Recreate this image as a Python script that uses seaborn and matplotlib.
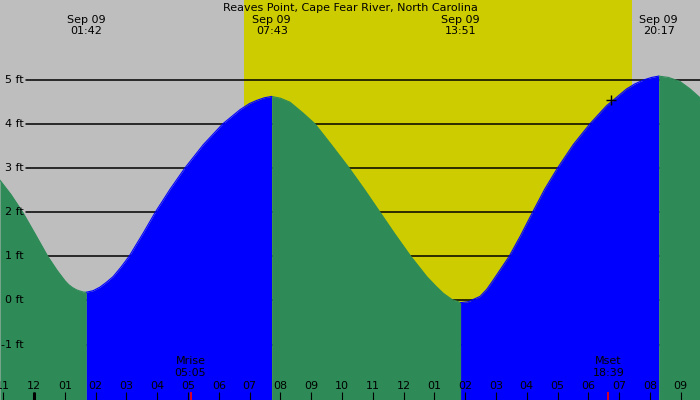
import numpy as np
import pandas as pd
import matplotlib
matplotlib.use("Agg")
import matplotlib.pyplot as plt
import seaborn as sns
from matplotlib.transforms import blended_transform_factory

# ---------------- data ----------------
title = "Reaves Point, Cape Fear River, North Carolina"

# hours after Sep 09 00:00, tide height in ft
tide_hours = [-1.104, -0.75, -0.37, 0.0, 0.445, 0.75, 1.0, 1.12, 1.25, 1.38, 1.5, 1.6, 1.70,
              1.92, 2.14, 2.35, 2.57, 2.82, 3.09, 3.55, 3.94, 4.42, 4.90, 5.50, 6.13, 6.69, 7.0, 7.23, 7.48, 7.717,
              8.0, 8.31, 8.74, 9.12, 9.67, 10.23, 10.75, 11.23, 11.72, 12.23, 12.75, 13.05, 13.29, 13.57, 13.85,
              14.1, 14.48, 14.7, 14.91, 15.43, 15.80, 16.19, 16.59, 17.0, 17.51, 18.05, 18.59, 19.24, 19.5,
              19.78, 20.05, 20.283,
              20.6, 20.97, 21.30, 21.623]
tide_ft = [2.72, 2.40, 2.00, 1.55, 1.00, 0.68, 0.45, 0.36, 0.29, 0.24, 0.21, 0.19, 0.185,
           0.22, 0.30, 0.41, 0.54, 0.75, 1.00, 1.53, 2.00, 2.52, 3.00, 3.53, 4.00, 4.32, 4.46, 4.53, 4.59, 4.62,
           4.58, 4.49, 4.24, 4.00, 3.51, 3.00, 2.49, 2.00, 1.50, 1.00, 0.54, 0.32, 0.16, 0.02, -0.05,
           -0.03, 0.09, 0.25, 0.46, 1.00, 1.47, 2.00, 2.53, 3.00, 3.53, 4.00, 4.41, 4.79, 4.90,
           4.99, 5.05, 5.08,
           5.05, 4.96, 4.79, 4.59]

extreme_hours = [1.70, 7.717, 13.85, 20.283]
extreme_labels = ["01:42", "07:43", "13:51", "20:17"]
extreme_date = "Sep 09"

sun_hours = [6.81, 19.41]          # sunrise / sunset (daylight band)
moon_hours = [5.083, 18.65]
moon_names = ["Mrise", "Mset"]
moon_labels = ["05:05", "18:39"]

now_hour, now_ft = 18.74, 4.54

hour_ticks = list(range(-1, 22))
hour_labels = ["11", "12", "01", "02", "03", "04", "05", "06", "07", "08", "09", "10",
               "11", "12", "01", "02", "03", "04", "05", "06", "07", "08", "09"]
midnight_hours = [0]

depth_ticks = [-1, 0, 1, 2, 3, 4, 5]
depth_labels = ["-1 ft", "0 ft", "1 ft", "2 ft", "3 ft", "4 ft", "5 ft"]

x_range = (-1.104, 21.623)
y_range = (-2.256, 6.804)

# ---------------- colours ----------------
GRAY = "#BEBEBE"
YELLOW = "#CCCC00"
GREEN = "#2E8B57"
BLUE = "#0000FF"

sns.set_style("white")
plt.rcParams["font.family"] = ["DejaVu Sans"]
plt.rcParams["text.color"] = "black"

fig = plt.figure(figsize=(7, 4), dpi=100)
ax = fig.add_axes([0, 0, 1, 1])
ax.set_facecolor(GRAY)
ax.set_xlim(*x_range)
ax.set_ylim(*y_range)
for s in ax.spines.values():
    s.set_visible(False)

# daylight
ax.axvspan(sun_hours[0], sun_hours[1], color=YELLOW, lw=0, zorder=0)

# depth grid lines (behind the tide)
for d in depth_ticks:
    ax.axhline(d, xmin=26 / 700, xmax=1, color="black", lw=1.1, zorder=1)

# tide segments: split at extremes
t = np.array(tide_hours)
h = np.array(tide_ft)
bounds = [t[0]] + extreme_hours + [t[-1]]
rows = []
for i in range(len(bounds) - 1):
    m = (t >= bounds[i] - 1e-9) & (t <= bounds[i + 1] + 1e-9)
    seg_t, seg_h = t[m], h[m]
    phase = "rising" if seg_h[-1] > seg_h[0] else "falling"
    col = BLUE if phase == "rising" else GREEN
    ax.fill_between(seg_t, seg_h, y_range[0], color=col, lw=0, zorder=2)
    for tt, hh in zip(seg_t, seg_h):
        rows.append({"hour": tt, "ft": hh, "phase": phase, "seg": i})
df = pd.DataFrame(rows)
sns.lineplot(data=df, x="hour", y="ft", hue="phase", units="seg", estimator=None,
             palette={"rising": BLUE, "falling": GREEN}, lw=0.8, legend=False,
             ax=ax, zorder=3)
ax.set_xlabel("")
ax.set_ylabel("")
ax.set_xticks([])
ax.set_yticks([])
ax.set_xlim(*x_range)
ax.set_ylim(*y_range)

# current position marker
ax.plot([now_hour], [now_ft], marker="+", color="black", ms=7, mew=1.0, zorder=4)

# depth labels
ty = blended_transform_factory(ax.transAxes, ax.transData)
for d, lab in zip(depth_ticks, depth_labels):
    ax.text(24 / 700, d, lab, transform=ty, ha="right", va="center", fontsize=8,
            color="black", zorder=5)

# hour ticks and labels
tx = blended_transform_factory(ax.transData, ax.transAxes)
ax.vlines(hour_ticks, 0, 8 / 400, transform=tx, color="black", lw=0.8, zorder=5)
ax.vlines(midnight_hours, 0, 8 / 400, transform=tx, color="black", lw=2.2, zorder=5)
for hr, lab in zip(hour_ticks, hour_labels):
    ax.text(hr, 14 / 400, lab, transform=tx, ha="center", va="center", fontsize=8,
            color="black", zorder=5)

# moon rise/set
ax.vlines(moon_hours, 0, 8 / 400, transform=tx, color="red", lw=1.2, zorder=6)
for mh, nm, lab in zip(moon_hours, moon_names, moon_labels):
    ax.text(mh, 38.5 / 400, nm, transform=tx, ha="center", va="center", fontsize=8,
            color="black", zorder=5)
    ax.text(mh, 27 / 400, lab, transform=tx, ha="center", va="center", fontsize=8,
            color="black", zorder=5)

# extreme labels at top
for eh, lab in zip(extreme_hours, extreme_labels):
    ax.text(eh, 1 - 20 / 400, extreme_date, transform=tx, ha="center", va="center",
            fontsize=8, color="black", zorder=5)
    ax.text(eh, 1 - 31.5 / 400, lab, transform=tx, ha="center", va="center",
            fontsize=8, color="black", zorder=5)

fig.text(0.5, 1 - 8 / 400, title, ha="center", va="center", fontsize=8, color="black")

fig.savefig("out.png", dpi=100, facecolor=GRAY)
